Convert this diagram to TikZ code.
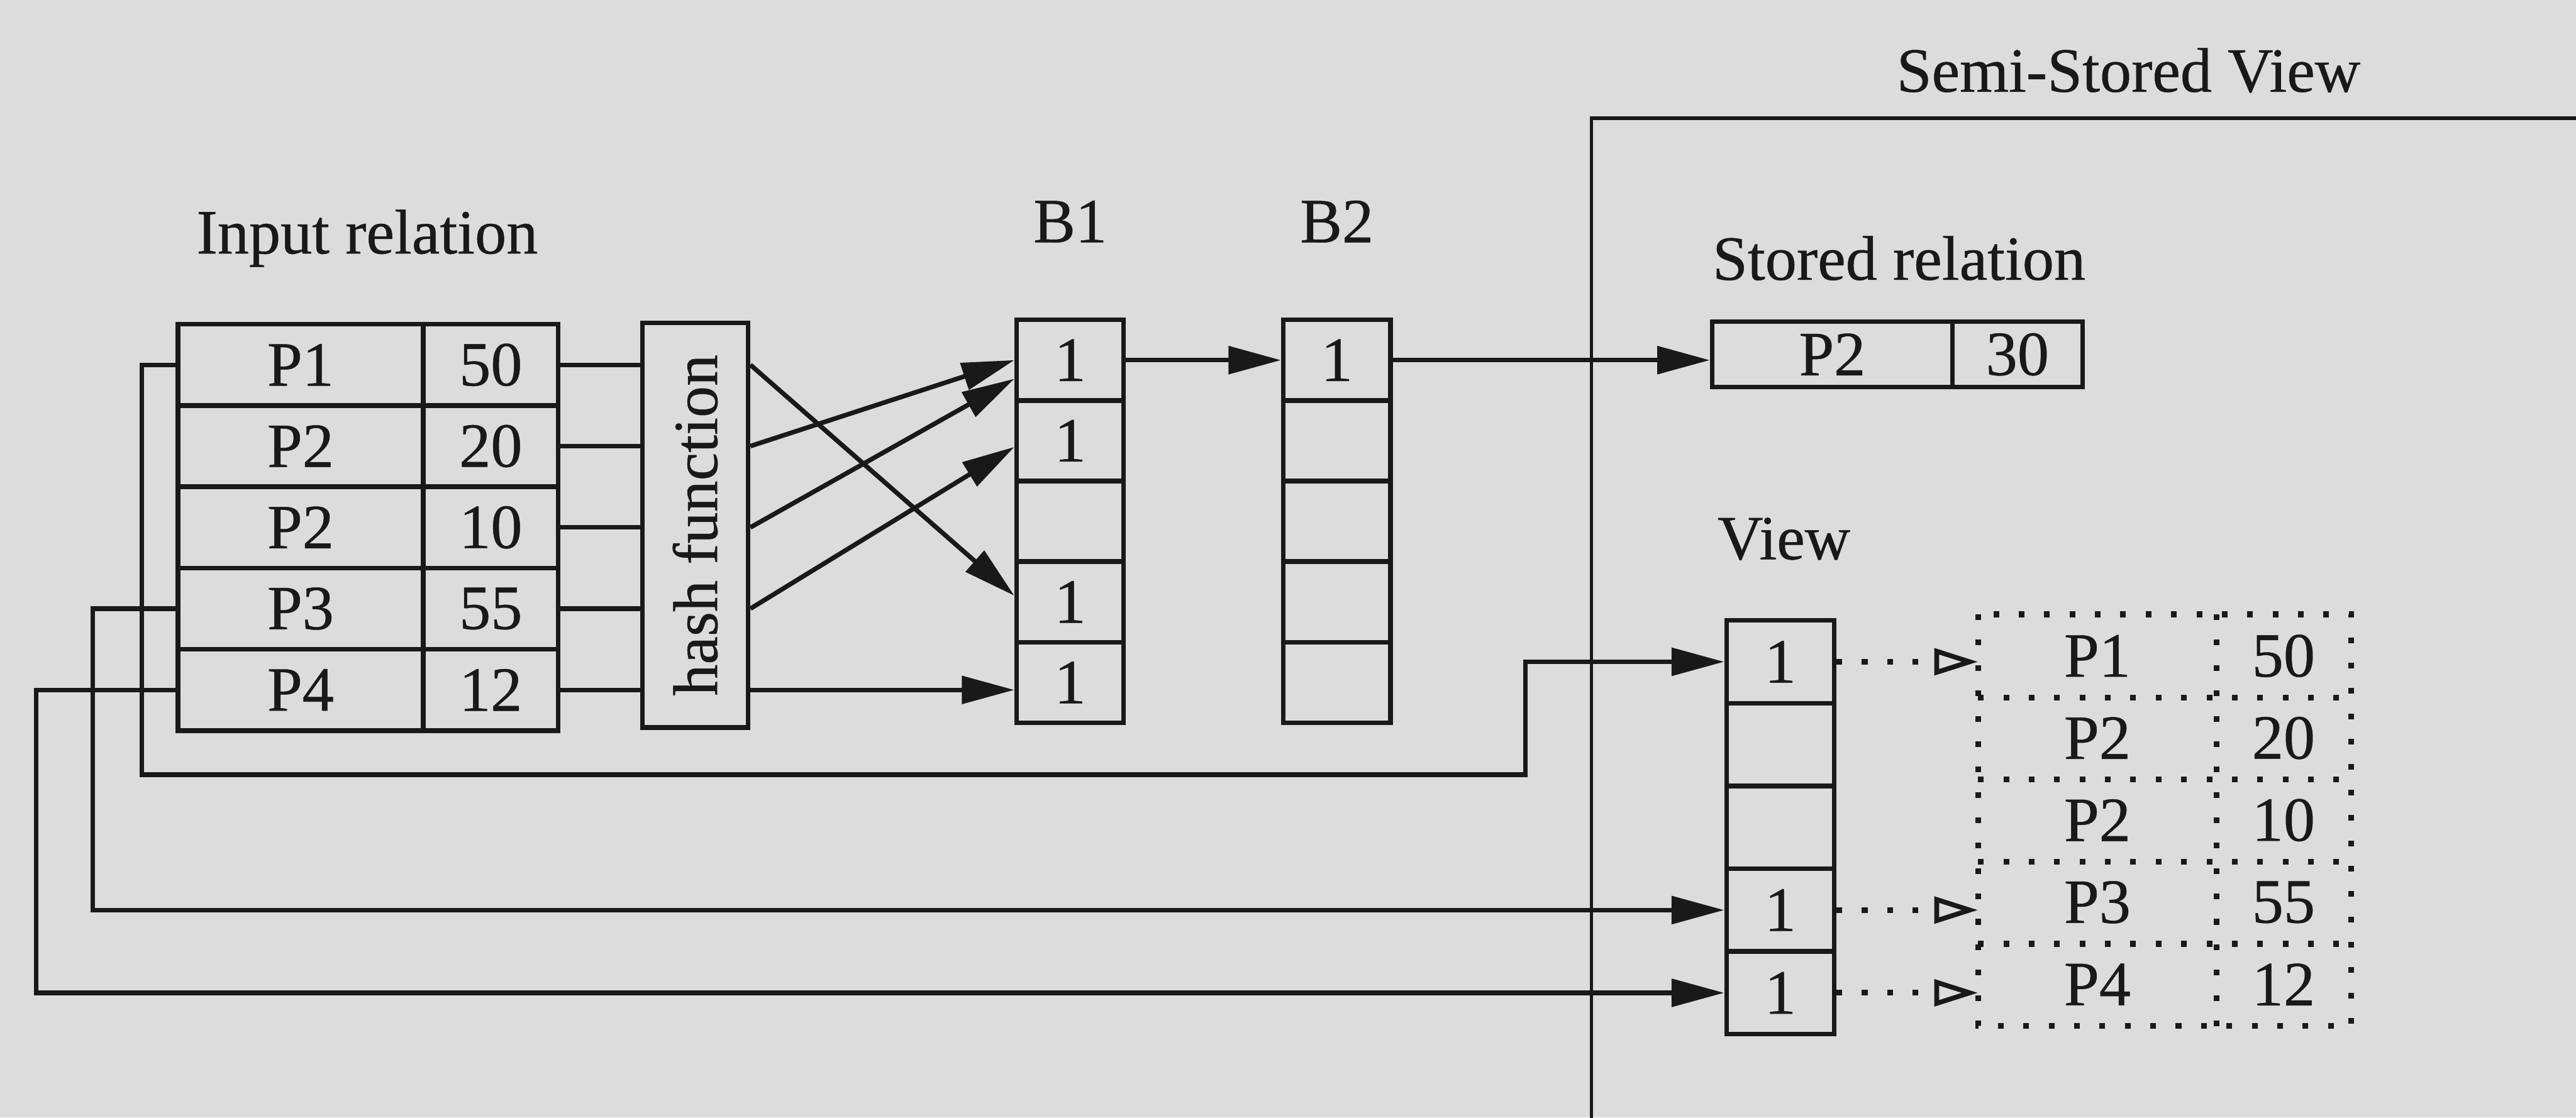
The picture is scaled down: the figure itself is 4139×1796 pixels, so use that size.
\documentclass[tikz,border=0pt]{standalone}
\usepackage{fontspec}
\setmainfont{Liberation Serif}[FakeBold=0.5]
\usetikzlibrary{arrows.meta}
\definecolor{paper}{RGB}{220,220,220}
\definecolor{ink}{RGB}{25,25,25}
\begin{document}
\begin{tikzpicture}[x=0.01cm,y=-0.01cm, color=ink,
  lw/.style={line width=2.1pt},
  txt/.style={font=\fontsize{28.8}{34}\selectfont},
  cellbox/.style={draw, lw, inner sep=0pt, txt},
  keycell/.style={cellbox, minimum width=3.94cm, minimum height=1.306cm},
  valcell/.style={cellbox, minimum width=2.17cm, minimum height=1.306cm},
  bcell/.style={cellbox, minimum width=1.72cm, minimum height=1.295cm},
  vcell/.style={cellbox, minimum width=1.73cm, minimum height=1.33cm},
  dkey/.style={inner sep=0pt, txt, minimum width=3.82cm, minimum height=1.32cm},
  dval/.style={inner sep=0pt, txt, minimum width=2.16cm, minimum height=1.32cm},
  lbl/.style={inner sep=0pt, txt},
  arr/.style={lw, -{Triangle[length=24pt,width=12.5pt]}},
  dotline/.style={line width=2.6pt, dash pattern=on 2.6pt off 9pt},
  darr/.style={dotline, -{Triangle[open,length=20pt,width=12pt,line width=2.2pt]}},
]
\fill[paper] (0,0) rectangle (4139,1796);
\useasboundingbox (0,0) rectangle (4139,1796);

% labels
\node[lbl] (inlab) at (590,383) {Input relation};
\node[lbl] (b1lab) at (1719.5,356) {B1};
\node[lbl] (b2lab) at (2148,356) {B2};
\node[lbl] (semilab) at (3420,113) {Semi-Stored View};
\node[lbl, anchor=west] (storlab) at (2751,415) {Stored relation};
\node[lbl, anchor=west] (viewlab) at (2759,866) {View};

% semi-stored view frame
\draw[line width=1.6pt] (2557,1810) -- (2557,190) -- (4150,190);

% input relation
\foreach \i/\k/\v/\y in {1/P1/50/586.3, 2/P2/20/716.9, 3/P2/10/847.5, 4/P3/55/978.1, 5/P4/12/1108.7}{
  \node[keycell] (k\i) at (483,\y) {\k};
  \node[valcell] (v\i) at (788.5,\y) {\v};
}

% hash function
\node[cellbox, minimum width=1.7cm, minimum height=6.5cm] (hash) at (1117,844) {\rotatebox{90}{hash function}};
\foreach \i in {1,...,5} \draw[lw] (v\i.east) -- (v\i.east -| hash.west);

% B1 and B2
\foreach \i/\a/\b/\y in {1/1/1/578.75, 2/1//708.25, 3///837.75, 4/1//967.25, 5/1//1096.75}{
  \node[bcell] (b1\i) at (1719.5,\y) {\a};
  \node[bcell] (b2\i) at (2148,\y) {\b};
}

% hash arrows
\draw[arr] (hash.east |- v1) -- ([yshift=0.1cm]b14.west);
\draw[arr] (hash.east |- v2) -- (b11.west);
\draw[arr] (hash.east |- v3) -- ([yshift=-0.3cm]b11.west);
\draw[arr] (hash.east |- v4) -- ([yshift=-0.1cm]b12.west);
\draw[arr] (hash.east |- v5) -- (b15.west |- v5);

\draw[arr] (b11.east) -- (b21.west);

% stored relation
\node[cellbox, minimum width=3.86cm, minimum height=1.05cm] (s1) at (2944,569.5) {P2};
\node[cellbox, minimum width=2.09cm, minimum height=1.05cm] (s2) at (3241.5,569.5) {30};
\draw[arr] (b21.east) -- (b21.east -| s1.west);

% view column
\foreach \i/\a/\y in {1/1/1063.5, 2//1196.5, 3//1329.5, 4/1/1462.5, 5/1/1595.5}{
  \node[vcell] (vw\i) at (2860.5,\y) {\a};
}

% dotted table
\foreach \i/\k/\v/\y in {1/P1/50/1054, 2/P2/20/1186, 3/P2/10/1318, 4/P3/55/1450, 5/P4/12/1582}{
  \node[dkey] (d\i) at (3370,\y) {\k};
  \node[dval] (e\i) at (3669,\y) {\v};
}
\draw[dotline] (d1.north west) rectangle (e5.south east);
\foreach \i in {1,...,4} \draw[dotline] (d\i.south west) -- (e\i.south east);
\draw[dotline] (d1.north east) -- (d5.south east);

\draw[darr] (vw1.east) -- (vw1.east -| d1.west);
\draw[darr] (vw4.east) -- (vw4.east -| d4.west);
\draw[darr] (vw5.east) -- (vw5.east -| d5.west);

% feedback loops
\coordinate (l1a) at (228,1245);
\coordinate (l1b) at (2451,1245);
\draw[arr] (k1.west) -| (l1a) -- (l1b) |- (vw1.west);
\coordinate (l3a) at (149,1462.5);
\draw[arr] (k4.west) -| (l3a) -- (vw4.west);
\coordinate (l4a) at (58,1595.5);
\draw[arr] (k5.west) -| (l4a) -- (vw5.west);
\end{tikzpicture}
\end{document}
